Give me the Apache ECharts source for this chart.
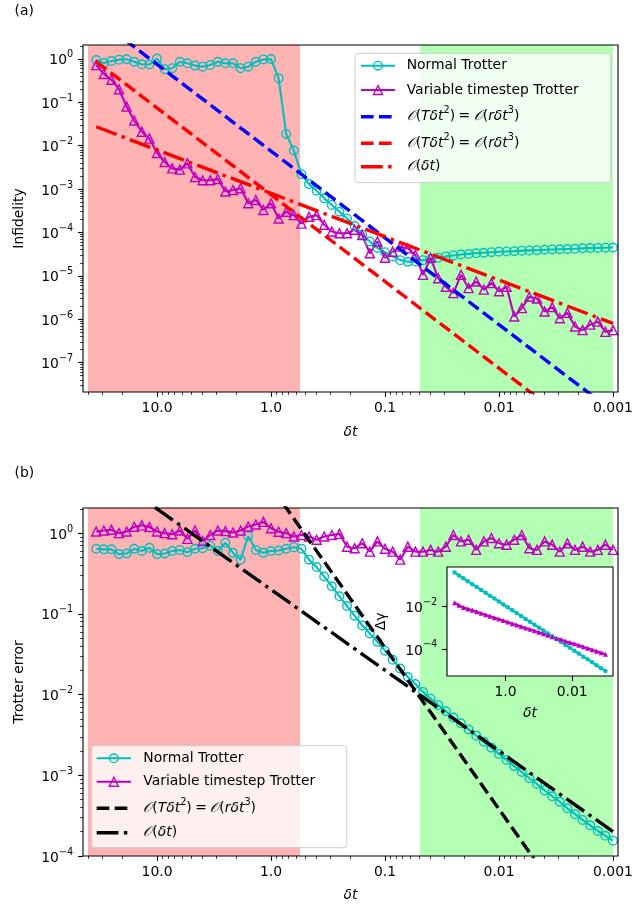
<!DOCTYPE html>
<html>
<head>
<meta charset="utf-8">
<script src="https://cdn.jsdelivr.net/npm/echarts@6/dist/echarts.min.js"></script>
<style>
  html, body { margin: 0; padding: 0; background: #fff; }
  #chart { width: 636px; height: 910px; }
</style>
</head>
<body>
<div id="chart"></div>
<script>
// Time steps (shared by every curve)
const dt = [34.15, 29.29, 25.12, 21.54, 18.48, 15.85, 13.59, 11.66, 10.0,
  8.577, 7.356, 6.310, 5.412, 4.642, 3.981, 3.415, 2.929, 2.512, 2.154, 1.848, 1.585, 1.359, 1.166, 1.0,
  0.8577, 0.7356, 0.6310, 0.5412, 0.4642, 0.3981, 0.3415, 0.2929, 0.2512, 0.2154, 0.1848, 0.1585, 0.1359, 0.1166, 0.1,
  0.08577, 0.07356, 0.06310, 0.05412, 0.04642, 0.03981, 0.03415, 0.02929, 0.02512, 0.02154, 0.01848, 0.01585, 0.01359, 0.01166, 0.01,
  0.008577, 0.007356, 0.006310, 0.005412, 0.004642, 0.003981, 0.003415, 0.002929, 0.002512, 0.002154, 0.001848, 0.001585, 0.001359, 0.001166, 0.001];

// Panel (a): infidelity
const infidelityNormal = [0.94, 0.80, 0.89, 0.96, 0.98, 0.86, 0.75, 0.74, 1.02,
  0.58, 0.61, 0.86, 0.79, 0.70, 0.66, 0.72, 0.86, 0.79, 0.79, 0.61, 0.66, 0.86, 0.97, 0.99,
  0.36, 0.0186, 0.0077, 0.0022, 0.0013, 9.2e-4, 6.1e-4, 4.3e-4, 3.0e-4, 2.1e-4, 1.4e-4, 9.0e-5, 6.2e-5, 4.4e-5, 3.5e-5,
  2.8e-5, 2.3e-5, 2.1e-5, 2.15e-5, 2.3e-5, 2.45e-5, 2.6e-5, 2.8e-5, 2.95e-5, 3.1e-5, 3.2e-5, 3.3e-5, 3.4e-5, 3.5e-5, 3.6e-5,
  3.65e-5, 3.7e-5, 3.8e-5, 3.85e-5, 3.9e-5, 4.0e-5, 4.05e-5, 4.1e-5, 4.15e-5, 4.2e-5, 4.3e-5, 4.35e-5, 4.4e-5, 4.45e-5, 4.5e-5];
const infidelityVariable = [0.72, 0.45, 0.33, 0.20, 0.08, 0.038, 0.021, 0.0145, 0.0068,
  0.0042, 0.0030, 0.0028, 0.0039, 0.0019, 0.0016, 0.0016, 0.0017, 8.8e-4, 9.5e-4, 1.04e-3, 4.7e-4, 5.6e-4, 3.3e-4, 4.7e-4,
  2.1e-4, 3.0e-4, 2.5e-4, 1.6e-4, 2.3e-4, 2.5e-4, 1.5e-4, 1.05e-4, 9.6e-5, 9.6e-5, 1.15e-4, 8.7e-5, 3.3e-5, 6.2e-5, 2.6e-5,
  3.6e-5, 4.7e-5, 4.3e-5, 3.0e-5, 1.05e-5, 2.6e-5, 8.8e-6, 5.6e-6, 4.0e-6, 1.05e-5, 5.2e-6, 7.4e-6, 4.8e-6, 6.8e-6, 4.4e-6,
  5.6e-6, 1.15e-6, 1.8e-6, 3.3e-6, 3.0e-6, 1.5e-6, 1.9e-6, 1.05e-6, 1.4e-6, 6.8e-7, 5.6e-7, 7.5e-7, 8.8e-7, 5.1e-7, 5.6e-7];

// Panel (b): Trotter error
const errorNormal = [0.64, 0.63, 0.63, 0.55, 0.56, 0.64, 0.60, 0.66, 0.55,
  0.56, 0.60, 0.62, 0.58, 0.64, 0.65, 0.70, 0.60, 0.76, 0.57, 0.47, 0.92, 0.62, 0.57, 0.60,
  0.61, 0.64, 0.67, 0.64, 0.47, 0.38, 0.29, 0.22, 0.165, 0.125, 0.095, 0.072, 0.057, 0.045, 0.035,
  0.027, 0.021, 0.0165, 0.0135, 0.0108, 0.0089, 0.0074, 0.0062, 0.0052, 0.0044, 0.0037, 0.0031, 0.0026, 0.0022, 0.00184,
  0.00155, 0.0013, 0.0011, 9.2e-4, 7.8e-4, 6.5e-4, 5.5e-4, 4.7e-4, 3.9e-4, 3.3e-4, 2.8e-4, 2.4e-4, 2.04e-4, 1.78e-4, 1.55e-4];
const errorVariable = [1.05, 1.08, 1.10, 1.00, 1.05, 1.20, 1.25, 1.19, 1.05,
  1.00, 0.97, 1.08, 0.85, 1.08, 0.80, 0.95, 1.08, 1.06, 1.02, 1.08, 1.21, 1.28, 1.38, 1.15,
  1.04, 1.00, 0.91, 0.95, 0.91, 0.83, 0.91, 0.95, 0.98, 0.68, 0.65, 0.75, 0.59, 0.79, 0.64,
  0.59, 0.47, 0.68, 0.59, 0.59, 0.62, 0.59, 0.68, 0.95, 0.79, 0.83, 0.62, 0.79, 0.87, 0.75,
  0.72, 0.83, 0.95, 0.65, 0.62, 0.79, 0.72, 0.59, 0.75, 0.62, 0.68, 0.59, 0.62, 0.72, 0.62];

// Inset: Δγ on every second time step
const dtInset = [34.15, 25.12, 18.48, 13.59, 10.0, 7.356, 5.412, 3.981, 2.929, 2.154, 1.585, 1.166,
  0.8577, 0.6310, 0.4642, 0.3415, 0.2512, 0.1848, 0.1359, 0.1, 0.07356, 0.05412, 0.03981, 0.02929,
  0.02154, 0.01585, 0.01166, 0.008577, 0.006310, 0.004642, 0.003415, 0.002512, 0.001848, 0.001359, 0.001];
const gammaNormal = [0.42, 0.305, 0.222, 0.162, 0.118, 0.0861, 0.0628, 0.0457, 0.0333, 0.0243, 0.0177, 0.0129,
  0.0094, 0.00685, 0.00499, 0.00364, 0.00265, 0.00193, 0.00141, 0.00103, 7.5e-4, 5.45e-4, 3.97e-4, 2.9e-4,
  2.11e-4, 1.54e-4, 1.12e-4, 8.2e-5, 6.0e-5, 4.3e-5, 3.2e-5, 2.3e-5, 1.68e-5, 1.22e-5, 8.9e-6];
const gammaVariable = [0.0155, 0.0117, 0.0093, 0.0079, 0.0068, 0.0058, 0.0049, 0.0042, 0.0035, 0.0030, 0.0026, 0.0022,
  0.0019, 0.00158, 0.00135, 0.00115, 9.8e-4, 8.5e-4, 7.2e-4, 6.2e-4, 5.2e-4, 4.5e-4, 3.8e-4, 3.2e-4,
  2.8e-4, 2.3e-4, 2.0e-4, 1.74e-4, 1.48e-4, 1.26e-4, 1.07e-4, 9.1e-5, 7.8e-5, 6.6e-5, 5.6e-5];

// Scaling guides, each a straight line between its two end points
const guideA_T2blue = [[34.15, 8.75], [0.001, 7.5e-9]];
const guideA_T2red = [[34.15, 0.863], [0.001, 7.4e-10]];
const guideA_linear = [[34.15, 0.0273], [0.001, 8.0e-7]];
const guideB_T2 = [[34.15, 4432], [0.001, 3.8e-6]];
const guideB_linear = [[34.15, 6.83], [0.001, 2.0e-4]];

// Shaded δt bands
const bandRed = [40.3, 0.557];
const bandGreen = [0.0493, 0.001];

// Ticks
const xMajor = [10, 1, 0.1, 0.01, 0.001];
const xMajorLabels = ['10.0', '1.0', '0.1', '0.01', '0.001'];
const yMajorA = [1, 1e-1, 1e-2, 1e-3, 1e-4, 1e-5, 1e-6, 1e-7];
const yMajorB = [1, 1e-1, 1e-2, 1e-3, 1e-4];
const xMajorInset = [1, 0.01];
const xMajorInsetLabels = ['1.0', '0.01'];
const yMajorInset = [1e-2, 1e-4];

const FONT = 'DejaVu Sans';
const FS = 13.9;
const CYAN = '#00BFBF', MAG = '#BF00BF';
const DASH = [12.6, 5.4];
const DASHDOT = [21.8, 5.4, 3.4, 5.4];
const GUIDE_W = 3.4;

function minorTicks(lo, hi) {
  const out = [];
  for (let e = Math.floor(Math.log10(lo)); e <= Math.ceil(Math.log10(hi)); e++) {
    for (let m = 2; m <= 9; m++) {
      const v = m * Math.pow(10, e);
      if (v > lo * 1.001 && v < hi * 0.999) out.push(v);
    }
  }
  return out;
}
function labelFrom(ticks, labels) {
  return v => {
    let best = 0;
    ticks.forEach((t, i) => {
      if (Math.abs(Math.log10(t) - Math.log10(v)) < Math.abs(Math.log10(ticks[best]) - Math.log10(v))) best = i;
    });
    return labels[best];
  };
}
function powLabel(v) {
  const e = Math.round(Math.log10(v));
  return '{b|10}{s|' + (e < 0 ? '\u2212' + (-e) : e) + '}';
}
const powRich = {
  b: { fontFamily: FONT, fontSize: FS, lineHeight: 18, verticalAlign: 'bottom', color: '#000' },
  s: { fontFamily: FONT, fontSize: 9.7, lineHeight: 11, verticalAlign: 'top', color: '#000' }
};

const X_MIN = 9.04e-4, X_MAX = 44.6;
const Y_A = [2.1e-8, 2.09];
const Y_B = [1e-4, 2.05];
const X_IN = [5.93e-4, 57.5];
const Y_IN = [5.19e-6, 0.767];

function xPair(grid, min, max, majors, labelFn, minors, z) {
  const base = { type: 'log', logBase: 10, gridIndex: grid, inverse: true, min, max, position: 'bottom',
    axisLine: { show: false }, splitLine: { show: false }, z: z || 0 };
  const list = [Object.assign({}, base, {
    axisTick: { show: true, customValues: majors, length: 4.9, lineStyle: { color: '#000', width: 1.1 } },
    axisLabel: { show: true, customValues: majors, formatter: labelFn, margin: 9.8,
      fontFamily: FONT, fontSize: FS, color: '#000' }
  })];
  if (minors) list.push(Object.assign({}, base, {
    axisTick: { show: true, customValues: minors, length: 2.8, lineStyle: { color: '#000', width: 0.8 } },
    axisLabel: { show: false }
  }));
  return list;
}
function yPair(grid, min, max, majors, minors, z) {
  const base = { type: 'log', logBase: 10, gridIndex: grid, min, max, position: 'left',
    axisLine: { show: false }, splitLine: { show: false }, z: z || 0 };
  const list = [Object.assign({}, base, {
    axisTick: { show: true, customValues: majors, length: 4.9, lineStyle: { color: '#000', width: 1.1 } },
    axisLabel: { show: true, customValues: majors, formatter: powLabel, rich: powRich, margin: 9.8 }
  })];
  if (minors) list.push(Object.assign({}, base, {
    axisTick: { show: true, customValues: minors, length: 2.8, lineStyle: { color: '#000', width: 0.8 } },
    axisLabel: { show: false }
  }));
  return list;
}

const pairs = (xs, ys) => xs.map((x, i) => [x, ys[i]]);

function markerSeries(name, xi, yi, data, color, symbol, z) {
  return {
    name, type: 'line', xAxisIndex: xi, yAxisIndex: yi, data, z: z || 2,
    symbol, symbolSize: symbol === 'triangle' ? 9 : 8.6, showAllSymbol: true,
    lineStyle: { color, width: 2.1 },
    itemStyle: { color: 'rgba(0,0,0,0)', borderColor: color, borderWidth: 1.4 },
    silent: true, animation: false
  };
}
function guideSeries(name, xi, yi, data, color, dash) {
  return {
    name, type: 'line', xAxisIndex: xi, yAxisIndex: yi, data, symbol: 'none', z: 3, clip: true,
    lineStyle: { color, width: GUIDE_W, type: dash, cap: 'butt' }, silent: true, animation: false
  };
}
function bands() {
  return {
    silent: true,
    data: [
      [{ xAxis: bandRed[0], itemStyle: { color: '#FFB3B3' } }, { xAxis: bandRed[1] }],
      [{ xAxis: bandGreen[0], itemStyle: { color: '#B3FFB3' } }, { xAxis: bandGreen[1] }]
    ]
  };
}

const chart = echarts.init(document.getElementById('chart'), null, { renderer: 'canvas' });

const gridA = { left: 83, top: 45, width: 535, height: 347 };
const gridB = { left: 83, top: 508, width: 535, height: 348 };
const gridIn = { left: 447, top: 567, width: 166, height: 109 };

// Legend drawn as graphic elements
function legendRows(box, hx, tx, rows) {
  const els = [{ type: 'rect', shape: { x: box[0], y: box[1], width: box[2], height: box[3], r: 3 },
    style: { fill: 'rgba(255,255,255,0.8)', stroke: '#cccccc', lineWidth: 1 }, z: 20 }];
  const mid = (hx[0] + hx[1]) / 2;
  rows.forEach(r => {
    const line = { type: 'line', shape: { x1: hx[0], y1: r.y, x2: hx[1], y2: r.y },
      style: { stroke: r.color, lineWidth: r.w, lineDash: r.dash || null }, z: 21 };
    els.push(line);
    if (r.marker === 'circle') {
      els.push({ type: 'circle', shape: { cx: mid, cy: r.y, r: 4.3 },
        style: { fill: 'none', stroke: r.color, lineWidth: 1.4 }, z: 22 });
    } else if (r.marker === 'triangle') {
      els.push({ type: 'polygon', shape: { points: [[mid, r.y - 4.5], [mid - 4.5, r.y + 4.5], [mid + 4.5, r.y + 4.5]] },
        style: { fill: 'none', stroke: r.color, lineWidth: 1.4 }, z: 22 });
    }
    const t = { type: 'text', x: tx, y: r.rich ? r.y - 2 : r.y, z: 22,
      style: { text: r.text, fill: '#000', fontFamily: FONT, fontSize: FS,
        align: 'left', verticalAlign: 'middle', textAlign: 'left', textVerticalAlign: 'middle' } };
    if (r.rich) t.style.rich = mathRich;
    els.push(t);
  });
  return els;
}
const mathRich = {
  n: { fontFamily: FONT, fontSize: FS, lineHeight: 18, verticalAlign: 'bottom', color: '#000' },
  i: { fontFamily: FONT, fontSize: FS, fontStyle: 'italic', lineHeight: 18, verticalAlign: 'bottom', color: '#000' },
  c: { fontFamily: FONT, fontSize: FS, fontStyle: 'italic', lineHeight: 18, verticalAlign: 'bottom', color: '#000' },
  s: { fontFamily: FONT, fontSize: 9.7, lineHeight: 11, verticalAlign: 'top', color: '#000' }
};
const T2_TEXT = '{c|\uD835\uDCAA}{n|(}{i|T\u03B4t}{s|2}{n|)\u2005=\u2005}{c|\uD835\uDCAA}{n|(}{i|r\u03B4t}{s|3}{n|)}';
const T1_TEXT = '{c|\uD835\uDCAA}{n|(}{i|\u03B4t}{n|)}';

const graphics = [
  { type: 'text', x: 14.5, y: 11, style: { text: '(a)', fill: '#000', fontFamily: FONT, fontSize: FS, align: 'left', verticalAlign: 'middle' } },
  { type: 'text', x: 14.5, y: 473, style: { text: '(b)', fill: '#000', fontFamily: FONT, fontSize: FS, align: 'left', verticalAlign: 'middle' } },
  { type: 'text', x: 19.5, y: 218.5, rotation: Math.PI / 2, style: { text: 'Infidelity', fill: '#000', fontFamily: FONT, fontSize: FS, align: 'center', verticalAlign: 'middle' } },
  { type: 'text', x: 19.5, y: 682, rotation: Math.PI / 2, style: { text: 'Trotter error', fill: '#000', fontFamily: FONT, fontSize: FS, align: 'center', verticalAlign: 'middle' } },
  { type: 'text', x: 350.5, y: 432, style: { text: '\u03B4t', fill: '#000', fontFamily: FONT, fontSize: FS, fontStyle: 'italic', align: 'center', verticalAlign: 'middle' } },
  { type: 'text', x: 350.5, y: 895, style: { text: '\u03B4t', fill: '#000', fontFamily: FONT, fontSize: FS, fontStyle: 'italic', align: 'center', verticalAlign: 'middle' } },
  { type: 'text', x: 530, y: 713.5, z: 30, style: { text: '\u03B4t', fill: '#000', fontFamily: FONT, fontSize: FS, fontStyle: 'italic', align: 'center', verticalAlign: 'middle' } },
  { type: 'text', x: 381.5, y: 621.5, z: 30, rotation: Math.PI / 2, style: { text: '\u0394\u03B3', fill: '#000', fontFamily: FONT, fontSize: FS, align: 'center', verticalAlign: 'middle' } }
].concat(
  legendRows([355, 53.3, 255.7, 129.4], [361, 395], 406.7, [
    { y: 65.7, color: CYAN, w: 2.1, marker: 'circle', text: 'Normal Trotter' },
    { y: 90, color: MAG, w: 2.1, marker: 'triangle', text: 'Variable timestep Trotter' },
    { y: 116.7, color: '#0000FF', w: GUIDE_W, dash: DASH, text: T2_TEXT, rich: true },
    { y: 143.3, color: '#FF0000', w: GUIDE_W, dash: DASH, text: T2_TEXT, rich: true },
    { y: 166.7, color: '#FF0000', w: GUIDE_W, dash: DASHDOT, text: T1_TEXT, rich: true }
  ]),
  legendRows([91.7, 745.7, 255, 102], [96.7, 131], 143.3, [
    { y: 758.3, color: CYAN, w: 2.1, marker: 'circle', text: 'Normal Trotter' },
    { y: 781.7, color: MAG, w: 2.1, marker: 'triangle', text: 'Variable timestep Trotter' },
    { y: 808.3, color: '#000', w: GUIDE_W, dash: DASH, text: T2_TEXT, rich: true },
    { y: 832.7, color: '#000', w: GUIDE_W, dash: DASHDOT, text: T1_TEXT, rich: true }
  ])
);

const option = {
  backgroundColor: '#fff',
  animation: false,
  grid: [
    Object.assign({ show: true, borderColor: '#000', borderWidth: 1.1, backgroundColor: 'rgba(0,0,0,0)', z: 5 }, gridA),
    Object.assign({ show: true, borderColor: '#000', borderWidth: 1.1, backgroundColor: 'rgba(0,0,0,0)', z: 5 }, gridB),
    Object.assign({ show: true, borderColor: '#000', borderWidth: 1.1, backgroundColor: '#fff', z: 10 }, gridIn)
  ],
  xAxis: [].concat(
    xPair(0, X_MIN, X_MAX, xMajor, labelFrom(xMajor, xMajorLabels), minorTicks(X_MIN, X_MAX)),
    xPair(1, X_MIN, X_MAX, xMajor, labelFrom(xMajor, xMajorLabels), minorTicks(X_MIN, X_MAX)),
    xPair(2, X_IN[0], X_IN[1], xMajorInset, labelFrom(xMajorInset, xMajorInsetLabels), null, 11)
  ),
  yAxis: [].concat(
    yPair(0, Y_A[0], Y_A[1], yMajorA, minorTicks(Y_A[0], Y_A[1])),
    yPair(1, Y_B[0], Y_B[1], yMajorB, minorTicks(Y_B[0], Y_B[1])),
    yPair(2, Y_IN[0], Y_IN[1], yMajorInset, null, 11)
  ),
  series: [
    Object.assign(markerSeries('Normal Trotter', 0, 0, pairs(dt, infidelityNormal), CYAN, 'circle'), { markArea: bands() }),
    markerSeries('Variable timestep Trotter', 0, 0, pairs(dt, infidelityVariable), MAG, 'triangle'),
    guideSeries('O(Tδt²) blue', 0, 0, guideA_T2blue, '#0000FF', DASH),
    guideSeries('O(Tδt²) red', 0, 0, guideA_T2red, '#FF0000', DASH),
    guideSeries('O(δt) red', 0, 0, guideA_linear, '#FF0000', DASHDOT),

    Object.assign(markerSeries('Normal Trotter', 2, 2, pairs(dt, errorNormal), CYAN, 'circle'), { markArea: bands() }),
    markerSeries('Variable timestep Trotter', 2, 2, pairs(dt, errorVariable), MAG, 'triangle'),
    guideSeries('O(Tδt²) black', 2, 2, guideB_T2, '#000', DASH),
    guideSeries('O(δt) black', 2, 2, guideB_linear, '#000', DASHDOT),

    { name: 'Δγ normal', type: 'line', xAxisIndex: 4, yAxisIndex: 4, z: 12, data: pairs(dtInset, gammaNormal),
      symbol: 'circle', symbolSize: 4.5, showAllSymbol: true, lineStyle: { color: CYAN, width: 2.2 },
      itemStyle: { color: CYAN }, silent: true, animation: false },
    { name: 'Δγ variable', type: 'line', xAxisIndex: 4, yAxisIndex: 4, z: 12, data: pairs(dtInset, gammaVariable),
      symbol: 'triangle', symbolSize: 5, showAllSymbol: true, lineStyle: { color: MAG, width: 2.2 },
      itemStyle: { color: MAG }, silent: true, animation: false }
  ],
  graphic: { elements: graphics }
};
chart.setOption(option);
</script>
</body>
</html>
